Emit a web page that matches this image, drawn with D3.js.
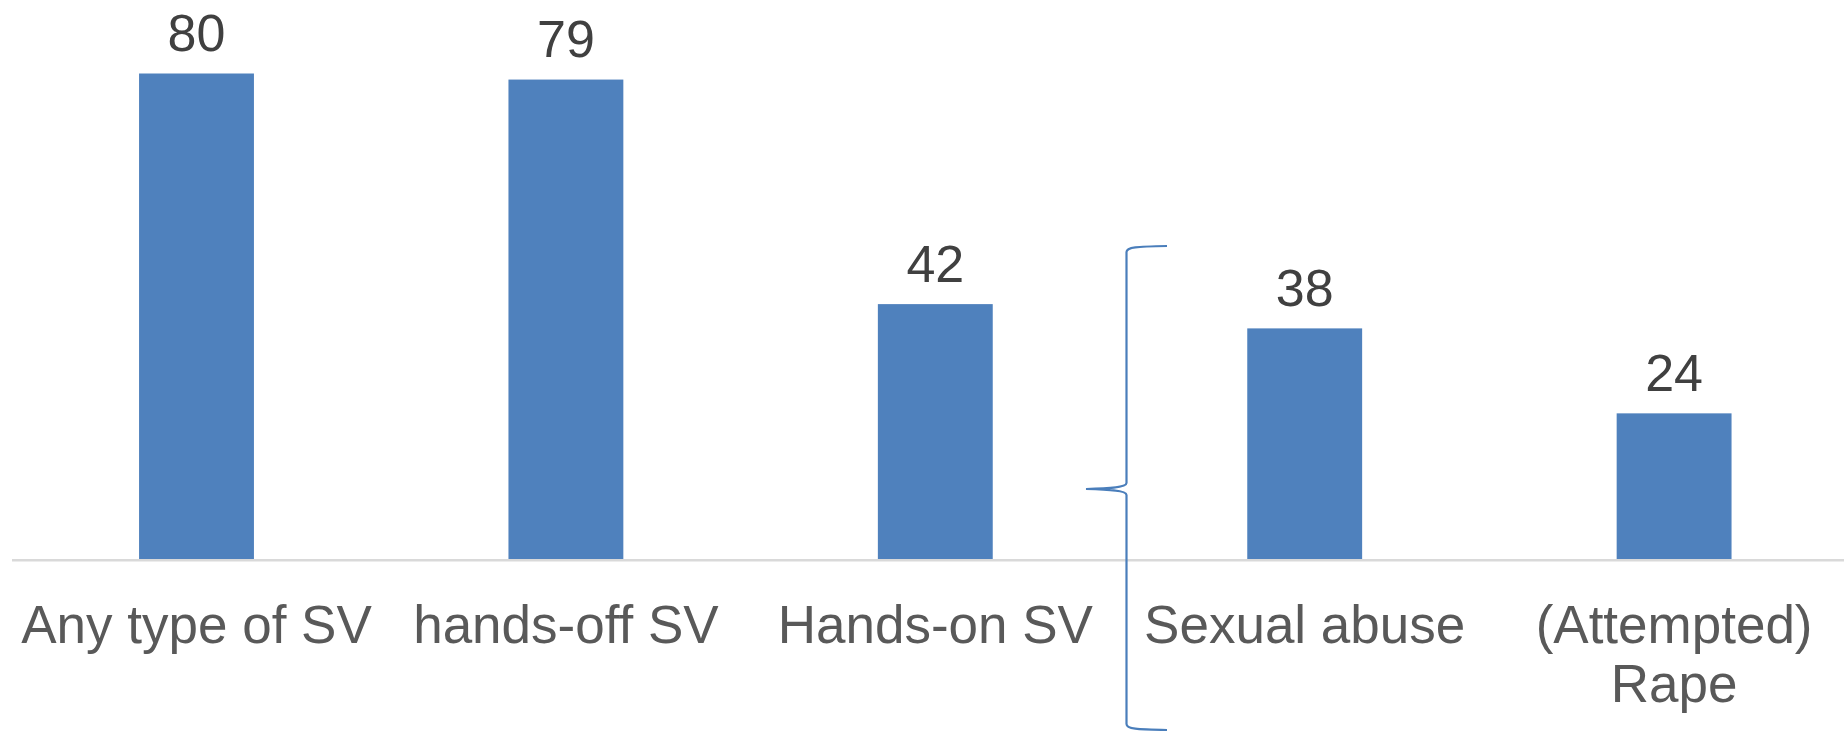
<!DOCTYPE html>
<html>
<head>
<meta charset="utf-8">
<script src="https://cdn.jsdelivr.net/npm/d3@7"></script>
<style>
  body { margin: 0; background: white; }
</style>
</head>
<body>
<div id="canvas"></div>
<script>
const width = 1844;
const height = 731;

// data
const categories = ["Any type of SV", "hands-off SV", "Hands-on SV", "Sexual abuse", "(Attempted) Rape"];
const values = [80, 79, 42, 38, 24];
// category labels split into lines the way they wrap in the picture
const labelLines = [["Any type of SV"], ["hands-off SV"], ["Hands-on SV"], ["Sexual abuse"], ["(Attempted)", "Rape"]];

const barColor = "#4f81bd";
const baseline = 559;

const svg = d3.select("#canvas")
    .append("svg")
    .attr("width", width)
    .attr("height", height);

svg.append("rect")
    .attr("width", width)
    .attr("height", height)
    .attr("fill", "white");

const x = d3.scaleBand()
    .domain(categories)
    .range([11.8, 1858.8])
    .paddingInner(0.689)
    .paddingOuter(0.3445);

const y = d3.scaleLinear()
    .domain([0, 80])
    .range([baseline, 73.5]);

// bars
svg.selectAll(".bar")
    .data(categories)
    .enter()
    .append("rect")
    .attr("class", "bar")
    .attr("x", d => x(d))
    .attr("y", (d, i) => y(values[i]))
    .attr("width", x.bandwidth())
    .attr("height", (d, i) => baseline - y(values[i]))
    .attr("fill", barColor);

// horizontal axis line
svg.append("line")
    .attr("x1", 12)
    .attr("x2", width)
    .attr("y1", baseline + 1.3)
    .attr("y2", baseline + 1.3)
    .attr("stroke", "#d9d9d9")
    .attr("stroke-width", 2.6);

// value labels
svg.selectAll(".value")
    .data(categories)
    .enter()
    .append("text")
    .attr("class", "value")
    .attr("x", d => x(d) + x.bandwidth() / 2)
    .attr("y", (d, i) => y(values[i]) - 22.5)
    .attr("text-anchor", "middle")
    .attr("font-family", "'Liberation Sans', Arial, sans-serif")
    .attr("font-size", 52)
    .attr("fill", "#404040")
    .text((d, i) => values[i]);

// category labels
categories.forEach((c, i) => {
    let t = svg.append("text")
        .attr("x", x(c) + x.bandwidth() / 2)
        .attr("y", 643)
        .attr("text-anchor", "middle")
        .attr("font-family", "'Liberation Sans', Arial, sans-serif")
        .attr("font-size", 53)
        .attr("fill", "#595959");
    labelLines[i].forEach((line, j) => {
        t.append("tspan")
            .attr("x", x(c) + x.bandwidth() / 2)
            .attr("dy", j === 0 ? 0 : 59)
            .text(line);
    });
});

// curly brace grouping the hands-on sub types
const braceX = 1126.5;   // vertical stroke
const braceTip = 1086;   // middle point
const braceArm = 1167;   // ends
const braceTop = 246;
const braceMid = 489;
const braceBottom = 730;
const r = 6;

const brace = d3.path();
brace.moveTo(braceArm, braceTop);
brace.bezierCurveTo(braceX + 10, braceTop + 0.5, braceX, braceTop + 1, braceX, braceTop + r);
brace.lineTo(braceX, braceMid - 6);
brace.bezierCurveTo(braceX, braceMid - 1, braceTip + 20, braceMid - 0.5, braceTip, braceMid);
brace.bezierCurveTo(braceTip + 20, braceMid + 0.5, braceX, braceMid + 1, braceX, braceMid + 6);
brace.lineTo(braceX, braceBottom - r);
brace.bezierCurveTo(braceX, braceBottom - 1, braceX + 10, braceBottom - 0.5, braceArm, braceBottom);

svg.append("path")
    .attr("d", brace.toString())
    .attr("fill", "none")
    .attr("stroke", "#4a7ebb")
    .attr("stroke-width", 2.2);
</script>
</body>
</html>
